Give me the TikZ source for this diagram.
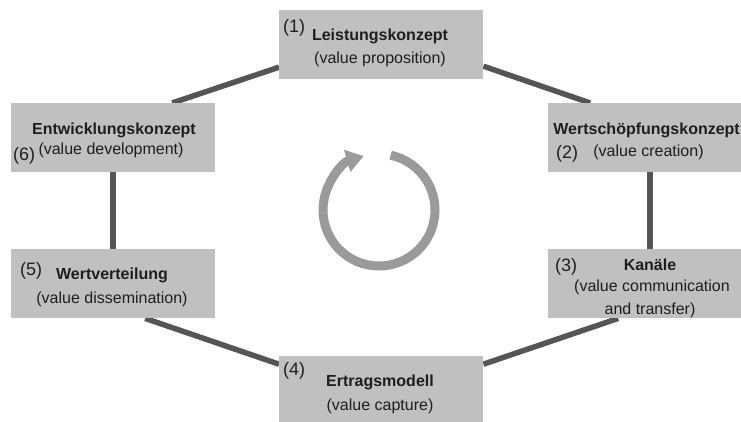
\documentclass[tikz,border=0pt]{standalone}
\usepackage{fontspec}
\setmainfont{Liberation Sans}
\usetikzlibrary{arrows.meta,calc,backgrounds}
\definecolor{boxfill}{HTML}{C0C0C0}
\definecolor{linkgray}{HTML}{555555}
\definecolor{cyclegray}{HTML}{9A9A9A}
\definecolor{txt}{HTML}{1E1E1E}
\begin{document}
\begin{tikzpicture}[x=1pt,y=1pt,
  phase/.style={fill=boxfill, draw=none, minimum width=204pt, minimum height=69pt,
                inner sep=0pt, anchor=north west},
  link/.style={draw=linkgray, line width=5.5pt},
  ttl/.style={font=\fontsize{16}{19}\selectfont\bfseries, text=txt, inner sep=0pt, anchor=base},
  sub/.style={font=\fontsize{16}{19}\selectfont, text=txt, inner sep=0pt, anchor=base},
  num/.style={font=\fontsize{18}{21}\selectfont, text=txt, inner sep=0pt, anchor=base west},
  cycle/.style={draw=cyclegray, line width=9pt, -{Triangle[length=17pt,width=22pt]}}]
\useasboundingbox (0,0) rectangle (741,-422);

% the six phases
\node[phase] (p1) at (279,-10) {};
\node[phase] (p2) at (548,-103) {};
\node[phase] (p3) at (548,-249) {};
\node[phase] (p4) at (279,-356) {};
\node[phase] (p5) at (11,-249) {};
\node[phase] (p6) at (11,-103) {};

% connectors between neighbouring phases
\begin{scope}[on background layer]
  \draw[link] ($(p6.north)+(59,0)$) -- ($(p1.west)+(0,-22.5)$);
  \draw[link] ($(p1.east)+(0,-21.5)$) -- ($(p2.north)+(-60,0)$);
  \draw[link] (p2.south) -- (p3.north);
  \draw[link] ($(p3.south)+(-32,0)$) -- ($(p4.east)+(0,26.5)$);
  \draw[link] ($(p4.west)+(0,26.5)$) -- ($(p5.south)+(32,0)$);
  \draw[link] (p5.north) -- (p6.south);
\end{scope}

% cycle arrow in the middle
\coordinate (hub) at (379,-210);
\draw[cycle] ($(hub)+(78:56)$) arc[start angle=78, end angle=-254, radius=56];

% labels
\node[num] (n1) at (283,-33) {(1)};
\node[ttl] (h1) at (380,-41) {Leistungskonzept};
\node[sub] (s1) at (380,-63.3) {(value proposition)};

\node[ttl, anchor=base east] (h2) at (740,-135) {Wertschöpfungskonzept};
\node[num] (n2) at (556,-158.5) {(2)};
\node[sub] (s2) at (648.5,-156.7) {(value creation)};

\node[num] (n3) at (555,-271.6) {(3)};
\node[ttl] (h3) at (650,-270.7) {Kanäle};
\node[sub] (s3) at (652,-291.6) {(value communication};
\node[sub] (s3b) at (650,-314) {and transfer)};

\node[num] (n4) at (283,-375) {(4)};
\node[ttl] (h4) at (380,-386.7) {Ertragsmodell};
\node[sub] (s4) at (380,-410.6) {(value capture)};

\node[num] (n5) at (20,-275) {(5)};
\node[ttl] (h5) at (112,-279.3) {Wertverteilung};
\node[sub] (s5) at (112,-303.3) {(value dissemination)};

\node[ttl] (h6) at (114,-135) {Entwicklungskonzept};
\node[num] (n6) at (13,-160.6) {(6)};
\node[sub] (s6) at (111,-155) {(value development)};
\end{tikzpicture}
\end{document}
